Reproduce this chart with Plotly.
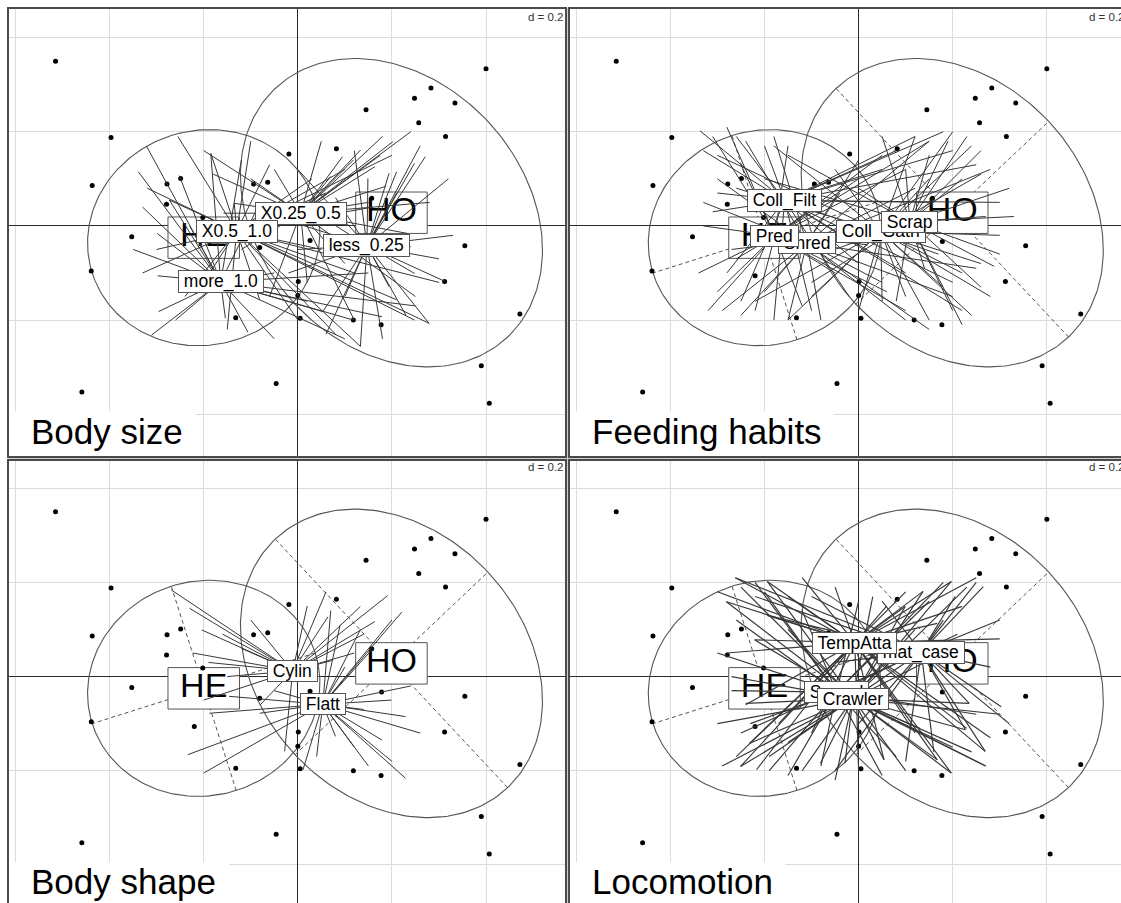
import numpy as np
import plotly.graph_objects as go

FONT = "Liberation Sans, Arial, Helvetica, sans-serif"

# ---------------- data (ade4 coordinates, d = 0.2 grid) ----------------
site_x = [-0.515, -0.397, -0.437, -0.353, -0.439, -0.459, -0.278, -0.249, -0.279, -0.202,
          -0.220, -0.081, -0.094, -0.064, -0.019, -0.132, -0.046, 0.001, 0.000, 0.005,
          0.026, 0.082, 0.145, 0.157, 0.178, 0.248, 0.283, 0.334, 0.257, 0.314,
          0.400, 0.355, 0.312, 0.472, 0.118, 0.177, 0.390, 0.407]
site_y = [0.350, 0.188, 0.086, -0.023, -0.096, -0.353, 0.089, 0.101, 0.046, 0.018,
          -0.106, -0.046, 0.089, 0.093, 0.153, -0.195, -0.335, -0.118, -0.148, -0.196,
          -0.031, 0.164, 0.247, 0.059, -0.033, 0.271, 0.293, 0.261, 0.219, 0.190,
          0.334, -0.042, -0.118, -0.187, -0.200, -0.210, -0.297, -0.377]

group_names = ["HE", "HO"]
group_x = [-0.200, 0.199]
group_y = [-0.025, 0.028]
ell_a_x = [-0.069, -0.247]
ell_a_y = [0.217, 0.264]
ell_b_x = [-0.237, 0.205]
ell_b_y = [-0.075, 0.194]

panel_titles = ["Body size", "Feeding habits", "Body shape", "Locomotion"]
scale_label = "d = 0.2"

size_labels = ["X0.25_0.5", "less_0.25", "X0.5_1.0", "more_1.0"]
size_x = [0.006, 0.147, -0.130, -0.164]
size_y = [0.027, -0.042, -0.011, -0.119]
size_end_x = [
    [0.202, 0.133, 0.095, 0.164, 0.118, 0.187, -0.135, -0.158, -0.100, -0.050, 0.233, 0.100, -0.120, 0.050, 0.150, -0.070, 0.020, 0.070, 0.175,
     0.240, 0.180, -0.180, -0.060, 0.250, 0.120, -0.200, 0.280],
    [0.271, 0.210, 0.194, 0.248, 0.149, 0.313, 0.248, 0.194, 0.240, 0.053, 0.230, 0.080, 0.000, 0.100, 0.300, 0.120, -0.020, 0.050, 0.279, 0.133,
     0.330, 0.260, -0.080, 0.180, 0.060, 0.320, 0.000, 0.210],
    [-0.255, -0.185, -0.273, -0.135, 0.279, 0.248, 0.133, 0.210, -0.081, 0.100, 0.060, -0.300, 0.050, 0.120, 0.000, -0.060, 0.160, -0.200, 0.030,
     -0.320, -0.240, 0.200, 0.300, -0.150, 0.080, -0.330, -0.100],
    [-0.322, -0.339, -0.252, -0.298, -0.296, -0.311, -0.219, -0.154, -0.106, -0.185, -0.299, 0.118, 0.179, 0.053, -0.050, 0.020, -0.273, -0.080, -0.230,
     -0.350, -0.120, 0.250, 0.100, -0.260, -0.050, 0.150, -0.330],
]
size_end_y = [
    [0.179, 0.161, 0.147, 0.126, 0.140, 0.084, 0.048, 0.027, 0.100, 0.120, -0.016, -0.080, -0.050, 0.180, 0.050, 0.000, -0.120, 0.105, 0.150,
     0.200, 0.190, 0.110, -0.150, -0.150, -0.200, 0.160, 0.050],
    [0.147, 0.115, 0.112, 0.133, 0.101, -0.118, -0.101, -0.129, -0.044, -0.182, -0.190, 0.060, -0.050, -0.150, -0.070, 0.160, -0.100, 0.020, -0.207, -0.256,
     -0.020, 0.170, 0.030, -0.240, -0.230, 0.100, 0.120, 0.070],
    [0.190, 0.154, 0.055, 0.048, -0.207, -0.200, -0.256, -0.157, -0.157, 0.120, 0.070, -0.050, -0.050, -0.100, -0.200, 0.130, 0.040, -0.120, 0.100,
     0.080, -0.150, 0.150, -0.120, -0.220, -0.230, -0.100, 0.180],
    [0.170, 0.115, 0.107, -0.106, -0.182, -0.232, -0.143, -0.196, -0.226, 0.154, -0.016, -0.200, -0.193, -0.182, -0.100, -0.160, 0.055, 0.050, 0.000,
     -0.050, 0.140, -0.170, -0.240, -0.200, -0.240, -0.100, 0.040],
]

feed_labels = ["Coll_Filt", "Coll_Gath", "Shred", "Pred", "Scrap"]
feed_x = [-0.157, 0.047, -0.110, -0.178, 0.109]
feed_y = [0.054, -0.012, -0.037, -0.021, 0.009]
feed_end_x = [
    [-0.337, -0.260, -0.200, -0.300, -0.310, 0.120, 0.080, 0.200, 0.050, -0.020, 0.100, -0.250, -0.100, 0.150, 0.200, -0.050, 0.000, -0.280, 0.250, 0.170,
     -0.330, 0.180, 0.220, -0.180, 0.300],
    [0.120, 0.240, 0.260, 0.220, 0.260, 0.240, 0.150, 0.100, 0.050, -0.180, -0.260, -0.220, -0.100, -0.270, 0.150, 0.300, -0.050, 0.000, 0.180,
     0.200, -0.300, 0.280, -0.150, 0.320],
    [-0.240, -0.180, -0.290, -0.200, -0.080, 0.150, 0.200, 0.100, 0.000, -0.300, 0.050, -0.150, 0.120, 0.250, -0.040,
     -0.330, 0.280, 0.150, -0.250],
    [-0.310, -0.250, -0.320, -0.300, -0.220, -0.120, 0.000, 0.050, -0.050, -0.330, 0.100, -0.150, 0.020, -0.260, 0.060, -0.080,
     -0.280, 0.150, -0.340, 0.100],
    [0.190, 0.260, 0.150, 0.100, 0.300, 0.260, 0.200, 0.080, -0.100, -0.150, 0.220, 0.000, 0.270, 0.140, -0.050, 0.230, 0.288,
     0.330, 0.050, -0.200, 0.220],
]
feed_end_y = [
    [0.202, 0.190, 0.170, 0.070, 0.030, 0.190, 0.160, 0.160, 0.120, -0.150, -0.100, -0.160, -0.180, 0.050, -0.120, 0.100, -0.080, -0.100, 0.130, -0.060,
     0.160, 0.200, -0.180, -0.200, 0.050],
    [0.190, 0.170, 0.110, -0.100, -0.080, -0.190, -0.200, -0.150, -0.160, 0.170, 0.080, -0.160, -0.150, -0.050, 0.100, -0.020, 0.120, -0.180, -0.130,
     0.200, 0.150, -0.150, -0.200, 0.080],
    [0.180, 0.190, -0.180, -0.140, -0.200, 0.180, -0.150, -0.200, 0.140, 0.100, -0.120, -0.200, 0.080, -0.090, 0.070,
     0.050, 0.120, -0.220, -0.190],
    [0.190, 0.130, -0.180, -0.140, -0.180, -0.170, 0.100, 0.150, -0.100, 0.000, 0.120, 0.170, -0.040, -0.070, -0.140, 0.050,
     0.210, 0.180, -0.100, -0.180],
    [0.180, 0.160, 0.150, 0.120, -0.060, -0.130, -0.180, -0.160, -0.120, 0.150, 0.100, 0.080, 0.020, -0.090, -0.050, 0.190, -0.086,
     0.020, 0.190, 0.100, -0.210],
]

shape_labels = ["Cylin", "Flatt"]
shape_x = [-0.011, 0.053]
shape_y = [0.012, -0.059]
shape_end_x = [
    [-0.269, -0.230, -0.204, -0.223, -0.160, -0.120, -0.190, -0.100, 0.191, 0.133, 0.064, 0.164, 0.140, 0.072, 0.020, -0.028, -0.150, 0.120, 0.060, -0.080, -0.200],
    [0.221, 0.200, 0.133, 0.090, 0.229, 0.260, 0.199, 0.229, 0.179, 0.080, -0.234, -0.200, 0.011, -0.146, -0.188, -0.081, 0.200, 0.150, 0.120, 0.070, 0.160, -0.050, 0.040, 0.240, 0.100, 0.140],
]
shape_end_y = [
    [0.184, 0.145, 0.099, 0.050, 0.090, 0.060, 0.030, 0.120, 0.172, 0.149, 0.127, 0.117, 0.090, 0.034, 0.150, -0.159, 0.000, 0.050, 0.180, -0.060, -0.050],
    [0.137, 0.120, 0.100, 0.110, -0.216, -0.120, -0.050, -0.085, -0.135, -0.127, -0.166, -0.205, -0.198, -0.042, -0.078, -0.078, -0.180, -0.190, -0.150, 0.140, 0.060, -0.030, -0.170, -0.020, 0.020, -0.070],
]

loco_labels = ["mat_case", "TempAtta", "Sprawl", "Crawler"]
loco_x = [0.133, -0.008, -0.047, -0.012]
loco_y = [0.052, 0.072, -0.033, -0.047]
loco_end_x = [
    [0.205, 0.265, 0.235, 0.303, 0.227, 0.269, -0.194, -0.262, -0.100, 0.050, 0.180, 0.000, 0.100, -0.150, 0.220, -0.050, 0.160, 0.280,
     0.320, -0.220, 0.250, -0.050, 0.300, -0.250],
    [-0.262, -0.194, -0.281, -0.194, -0.221, -0.232, -0.251, -0.217, 0.197, 0.137, 0.099, 0.167, 0.220, 0.269, 0.197, 0.167, 0.054, -0.100, -0.150, 0.060, -0.240, 0.230, -0.050, 0.120, -0.170, 0.100, -0.280,
     -0.300, 0.250, -0.260, 0.280, -0.120, 0.000, 0.300],
    [-0.260, -0.200, -0.230, -0.190, 0.150, 0.200, -0.080, 0.080, 0.210, -0.270, 0.250, 0.000, -0.120, 0.130,
     -0.300, 0.270, -0.150, 0.180, -0.220, 0.050],
    [-0.251, -0.232, -0.240, -0.081, -0.029, 0.054, 0.197, 0.167, 0.227, 0.235, -0.281, -0.194, -0.221, 0.137, 0.197, 0.099, -0.150, 0.120, -0.120, 0.100, -0.270, 0.240, 0.030, -0.190, 0.180,
     -0.290, 0.270, -0.250, 0.230, -0.050, 0.300, -0.300],
]
loco_end_y = [
    [0.170, 0.191, -0.057, -0.064, -0.113, -0.159, 0.130, 0.210, 0.170, 0.160, 0.120, -0.100, -0.180, -0.140, 0.050, 0.030, -0.160, 0.020,
     -0.100, 0.170, 0.200, -0.200, 0.120, -0.120],
    [0.210, 0.202, 0.159, 0.130, 0.078, -0.142, -0.191, -0.198, 0.202, 0.181, 0.149, 0.113, 0.149, -0.159, -0.205, -0.177, -0.177, -0.120, 0.170, 0.150, -0.060, -0.110, 0.190, -0.120, -0.100, 0.180, 0.050,
     0.180, 0.210, -0.170, -0.130, 0.210, -0.200, 0.080],
    [0.120, 0.180, -0.100, -0.200, 0.160, -0.150, -0.190, -0.170, 0.090, -0.030, -0.080, 0.160, 0.140, -0.110,
     0.050, -0.190, -0.210, 0.200, 0.200, -0.210],
    [-0.191, -0.142, -0.057, -0.184, -0.184, -0.177, -0.205, -0.177, -0.113, -0.057, 0.159, 0.202, 0.078, 0.181, 0.202, 0.149, 0.100, 0.100, -0.200, -0.200, 0.000, -0.160, 0.170, -0.170, 0.050,
     -0.190, -0.190, 0.190, 0.190, -0.220, -0.080, -0.100],
]

# ---------------- layout geometry ----------------
W, H = 1121, 903
def px_x(p):
    return p / W
def px_y(p):
    return 1 - p / H

panels = [
    dict(title=panel_titles[0], labels=size_labels, lx=size_x, ly=size_y, ex=size_end_x, ey=size_end_y,
         dashed=False, lw=1.0, xa="x", ya="y", xdom=[px_x(8), px_x(566)], ydom=[px_y(457), px_y(8)],
         xr=[-0.616, 0.570], yr=[-0.491, 0.463], box_r=-0.218),
    dict(title=panel_titles[1], labels=feed_labels, lx=feed_x, ly=feed_y, ex=feed_end_x, ey=feed_end_y,
         dashed=True, lw=1.0, xa="x2", ya="y2", xdom=[px_x(569), 1.0], ydom=[px_y(457), px_y(8)],
         xr=[-0.6154, 0.5576], yr=[-0.491, 0.463], box_r=-0.052),
    dict(title=panel_titles[2], labels=shape_labels, lx=shape_x, ly=shape_y, ex=shape_end_x, ey=shape_end_y,
         dashed=True, lw=1.0, xa="x3", ya="y3", xdom=[px_x(8), px_x(566)], ydom=[0.0, px_y(460)],
         xr=[-0.616, 0.570], yr=[-0.481, 0.460], box_r=-0.146),
    dict(title=panel_titles[3], labels=loco_labels, lx=loco_x, ly=loco_y, ex=loco_end_x, ey=loco_end_y,
         dashed=True, lw=1.15, xa="x4", ya="y4", xdom=[px_x(569), 1.0], ydom=[0.0, px_y(460)],
         xr=[-0.6154, 0.5576], yr=[-0.481, 0.460], box_r=-0.156),
]

LINE_COL = "#383838"
ELL_COL = "#555555"
BOX_HW, BOX_HH = 0.076, 0.044

fig = go.Figure()
shapes = []
annotations = []
t = np.linspace(0, 2 * np.pi, 241)

for p in panels:
    xa, ya = p["xa"], p["ya"]
    xref = xa
    yref = ya
    # title background box (covers grid)
    shapes.append(dict(type="rect", xref=xref, yref=yref, x0=p["xr"][0] - 0.01, x1=p["box_r"],
                       y0=p["yr"][0] - 0.02, y1=-0.394, fillcolor="white", line=dict(width=0),
                       layer="between"))
    # ellipses
    for g in range(len(group_names)):
        ex = group_x[g] + ell_a_x[g] * np.cos(t) + ell_b_x[g] * np.sin(t)
        ey = group_y[g] + ell_a_y[g] * np.cos(t) + ell_b_y[g] * np.sin(t)
        fig.add_trace(go.Scatter(x=ex, y=ey, mode="lines", line=dict(color=ELL_COL, width=1.1),
                                 xaxis=xa, yaxis=ya, hoverinfo="skip"))
        if p["dashed"]:
            dx = [group_x[g] - ell_a_x[g], group_x[g] + ell_a_x[g], None,
                  group_x[g] - ell_b_x[g], group_x[g] + ell_b_x[g]]
            dy = [group_y[g] - ell_a_y[g], group_y[g] + ell_a_y[g], None,
                  group_y[g] - ell_b_y[g], group_y[g] + ell_b_y[g]]
            fig.add_trace(go.Scatter(x=dx, y=dy, mode="lines",
                                     line=dict(color=ELL_COL, width=1, dash="4px,3px"),
                                     xaxis=xa, yaxis=ya, hoverinfo="skip"))
    # group label boxes (under the trait stars)
    for g in range(len(group_names)):
        cx, cy = group_x[g], group_y[g]
        fig.add_trace(go.Scatter(x=[cx - BOX_HW, cx + BOX_HW, cx + BOX_HW, cx - BOX_HW, cx - BOX_HW],
                                 y=[cy - BOX_HH, cy - BOX_HH, cy + BOX_HH, cy + BOX_HH, cy - BOX_HH],
                                 mode="lines", fill="toself", fillcolor="white",
                                 line=dict(color=ELL_COL, width=1), xaxis=xa, yaxis=ya, hoverinfo="skip"))
    fig.add_trace(go.Scatter(x=group_x, y=group_y, mode="text", text=group_names,
                             textposition="middle center",
                             textfont=dict(family=FONT, size=34, color="black"),
                             xaxis=xa, yaxis=ya, hoverinfo="skip"))
    # sites
    fig.add_trace(go.Scatter(x=site_x, y=site_y, mode="markers",
                             marker=dict(color="black", size=5), xaxis=xa, yaxis=ya, hoverinfo="skip"))
    # trait stars
    for k in range(len(p["labels"])):
        cx, cy = p["lx"][k], p["ly"][k]
        xs, ys = [], []
        for x1, y1 in zip(p["ex"][k], p["ey"][k]):
            xs += [cx, x1, None]
            ys += [cy, y1, None]
        fig.add_trace(go.Scatter(x=xs, y=ys, mode="lines", line=dict(color=LINE_COL, width=p["lw"]),
                                 xaxis=xa, yaxis=ya, hoverinfo="skip"))
    # trait labels
    for k, lab in enumerate(p["labels"]):
        annotations.append(dict(x=p["lx"][k], y=p["ly"][k], xref=xref, yref=yref, text=" " + lab + " ",
                                showarrow=False, font=dict(family=FONT, size=17.5, color="black"),
                                bgcolor="white", bordercolor=ELL_COL, borderwidth=1, borderpad=0))
    # title
    annotations.append(dict(x=p["xr"][0] + 0.045, y=-0.436, xref=xref, yref=yref, text=p["title"],
                            showarrow=False, xanchor="left", yanchor="middle",
                            font=dict(family=FONT, size=35, color="black")))
    # scale
    annotations.append(dict(x=0.486, y=0.4447, xref=xref, yref=yref, text=scale_label,
                            showarrow=False, xanchor="left", yanchor="middle",
                            font=dict(family=FONT, size=11.5, color="#333333")))

# panel dividers & frames
shapes.append(dict(type="rect", xref="paper", yref="paper", x0=px_x(566), x1=px_x(569), y0=-0.01, y1=px_y(8),
                   fillcolor="#cfcfcf", line=dict(width=0), layer="above"))
shapes.append(dict(type="rect", xref="paper", yref="paper", x0=px_x(8), x1=1.01, y0=px_y(460), y1=px_y(457),
                   fillcolor="#cfcfcf", line=dict(width=0), layer="above"))
for p in panels:
    shapes.append(dict(type="rect", xref="paper", yref="paper",
                       x0=p["xdom"][0], x1=p["xdom"][1] + (0.01 if p["xdom"][1] >= 1 else 0),
                       y0=p["ydom"][0] - (0.01 if p["ydom"][0] <= 0 else 0), y1=p["ydom"][1],
                       fillcolor="rgba(0,0,0,0)", line=dict(color="#4a4a4a", width=2), layer="above"))

layout = dict(width=W, height=H, margin=dict(l=0, r=0, t=0, b=0, pad=0),
              paper_bgcolor="white", plot_bgcolor="white", showlegend=False,
              shapes=shapes, annotations=annotations, hovermode=False)
for i, p in enumerate(panels):
    sx = "" if i == 0 else str(i + 1)
    layout["xaxis" + sx] = dict(domain=p["xdom"], range=p["xr"], anchor="y" + sx, dtick=0.2, tick0=0,
                                showgrid=True, gridcolor="#dcdcdc", gridwidth=1,
                                zeroline=True, zerolinecolor="#2a2a2a", zerolinewidth=1,
                                showticklabels=False, ticks="", showline=False, fixedrange=True)
    layout["yaxis" + sx] = dict(domain=p["ydom"], range=p["yr"], anchor="x" + sx, dtick=0.2, tick0=0,
                                showgrid=True, gridcolor="#dcdcdc", gridwidth=1,
                                zeroline=True, zerolinecolor="#2a2a2a", zerolinewidth=1,
                                showticklabels=False, ticks="", showline=False, fixedrange=True)
fig.update_layout(**layout)
fig.write_html("out.html", config={"displayModeBar": False})
